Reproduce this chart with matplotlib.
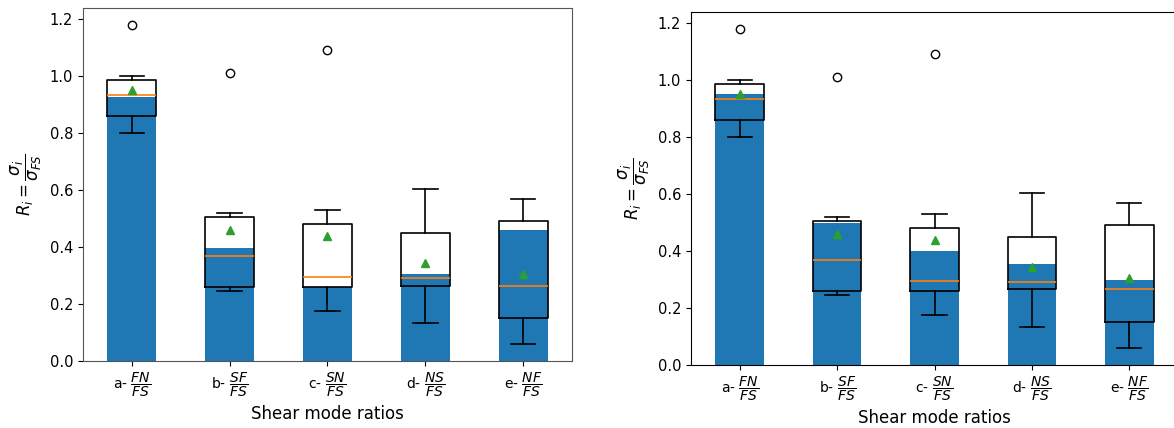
import matplotlib.pyplot as plt
import numpy as np

labels = [r'a- $\dfrac{FN}{FS}$', r'b- $\dfrac{SF}{FS}$', r'c- $\dfrac{SN}{FS}$',
          r'd- $\dfrac{NS}{FS}$', r'e- $\dfrac{NF}{FS}$']

# box statistics (same in both panels)
whislo = [0.80, 0.245, 0.175, 0.135, 0.06]
q1 = [0.86, 0.26, 0.26, 0.265, 0.15]
med = [0.935, 0.37, 0.295, 0.29, 0.265]
q3 = [0.985, 0.505, 0.48, 0.45, 0.49]
whishi = [1.0, 0.52, 0.53, 0.605, 0.57]
means = [0.95, 0.46, 0.44, 0.345, 0.305]
fliers = [[1.18], [1.01], [1.09], [], []]

# bar heights
bars_left = [0.925, 0.395, 0.26, 0.305, 0.46]
bars_right = [0.95, 0.50, 0.40, 0.355, 0.30]

stats = []
for i in range(len(labels)):
    stats.append({'whislo': whislo[i], 'q1': q1[i], 'med': med[i], 'q3': q3[i],
                  'whishi': whishi[i], 'mean': means[i], 'fliers': fliers[i]})

fig = plt.figure(figsize=(11.74, 4.28), dpi=100)
ax1 = fig.add_axes([0.0707, 0.1565, 0.4165, 0.8248])
ax2 = fig.add_axes([0.5886, 0.1472, 0.4148, 0.8248])

pos = np.arange(1, len(labels) + 1)
for ax, bars in ((ax1, bars_left), (ax2, bars_right)):
    ax.bar(pos, bars, width=0.5, color='tab:blue')
    ax.bxp(stats, positions=pos, widths=0.5, showmeans=True,
           boxprops={'linewidth': 1.2}, whiskerprops={'linewidth': 1.2},
           capprops={'linewidth': 1.2}, medianprops={'linewidth': 1.2})
    ax.set_xticks(pos)
    ax.set_xticklabels(labels, fontsize=10)
    ax.tick_params(axis='y', labelsize=10.5)
    ax.set_ylabel(r'$R_i = \dfrac{\sigma_i}{\sigma_{FS}}$', fontsize=12)
    ax.set_xlabel('Shear mode ratios', fontsize=12)
    ax.set_xlim(0.5, 5.5)
    ax.set_ylim(0, 1.239)

for s in ax1.spines.values():
    s.set_color('#555555')

plt.savefig('out.png', dpi=100)
